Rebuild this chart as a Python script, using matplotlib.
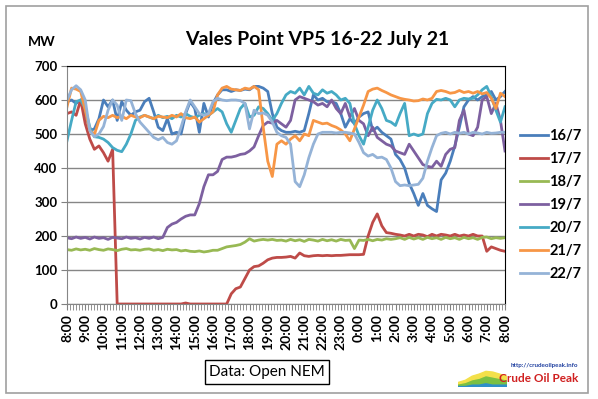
import numpy as np
import matplotlib
matplotlib.use('Agg')
import matplotlib.pyplot as plt
from matplotlib.patches import Rectangle

plt.rcParams['font.family'] = ['Lato', 'DejaVu Sans']

# 15-minute samples from 8:00 to 8:00 next day (97 values each)
hour_labels = ['8:00', '9:00', '10:00', '11:00', '12:00', '13:00', '14:00', '15:00',
               '16:00', '17:00', '18:00', '19:00', '20:00', '21:00', '22:00', '23:00',
               '0:00', '1:00', '2:00', '3:00', '4:00', '5:00', '6:00', '7:00', '8:00']

d16 = [595, 600, 590, 600, 560, 510, 515, 545, 600, 580, 600, 540, 595, 570, 555, 565,
       570, 595, 605, 565, 520, 510, 545, 500, 505, 500, 560, 595, 575, 505, 590, 550,
       590, 615, 630, 630, 625, 630, 628, 632, 630, 640, 640, 635, 625, 560, 520, 510,
       505, 505, 508, 505, 510, 560, 615, 600, 605, 595, 595, 590, 560, 520, 545, 530,
       550, 560, 565, 510, 520, 505, 495, 485, 440, 425, 400, 355, 325, 290, 325, 290,
       280, 272, 365, 385, 420, 465, 520, 580, 600, 610, 600, 610, 615, 625, 600, 610,
       625]
d17 = [560, 565, 555, 600, 530, 485, 455, 465, 445, 420, 455, 0, 0, 0, 0, 0,
       0, 0, 0, 0, 0, 0, 0, 0, 0, 0, 3, 0, 0, 0, 0, 0,
       0, 0, 0, 0, 30, 45, 50, 75, 100, 110, 112, 120, 130, 135, 137, 137,
       138, 140, 135, 150, 142, 140, 142, 143, 142, 143, 142, 143, 143, 144, 145, 145,
       145, 146, 200, 240, 265, 230, 210, 208, 205, 203, 200, 205, 200, 205, 203, 198,
       205, 200, 205, 203, 200, 205, 200, 203, 200, 205, 200, 200, 155, 168, 163, 158,
       155]
d18 = [160, 158, 162, 159, 161, 158, 163, 160, 158, 162, 160, 157, 161, 163, 159, 160,
       158, 161, 162, 158, 160, 157, 161, 159, 160, 156, 158, 155, 154, 156, 153, 155,
       158, 158, 163, 168, 170, 172, 175, 182, 192, 185, 188, 190, 188, 190, 187, 188,
       185, 190, 186, 189, 184, 190, 188, 185, 190, 186, 189, 185, 190, 187, 188, 163,
       188, 187, 190, 186, 190, 188, 192, 190, 192, 195, 190, 196, 191, 195, 190, 196,
       192, 195, 190, 196, 192, 195, 190, 196, 192, 195, 190, 196, 197, 192, 195, 193,
       195]
d19 = [195, 192, 197, 193, 196, 191, 197, 193, 195, 190, 196, 194, 192, 197, 193, 195,
       191, 196, 193, 197, 192, 196, 225, 235, 240, 250, 258, 262, 262, 295, 345, 380,
       380, 390, 425, 432, 432, 435, 440, 442, 450, 462, 495, 525, 535, 532, 540, 530,
       520, 540, 600, 610, 605, 600, 595, 585, 590, 580, 600, 575, 560, 590, 550, 575,
       540, 530, 495, 520, 490, 480, 470, 465, 450, 445, 440, 470, 450, 430, 410, 405,
       402, 420, 405, 440, 455, 460, 540, 570, 500, 495, 520, 600, 610, 560, 590, 540,
       450]
d20 = [480, 540, 595, 600, 575, 520, 492, 490, 485, 475, 460, 452, 448, 470, 500, 540,
       550, 555, 550, 545, 555, 548, 552, 545, 555, 550, 560, 552, 548, 555, 560, 555,
       565, 575, 565, 530, 505, 540, 575, 590, 550, 555, 580, 575, 560, 540, 560, 590,
       615, 625, 620, 635, 615, 640, 620, 615, 630, 620, 625, 615, 600, 605, 590, 530,
       495, 470, 520, 570, 600, 575, 540, 535, 525, 560, 590, 495, 500, 495, 500, 560,
       590, 602, 600, 605, 600, 580, 600, 605, 603, 605, 615, 630, 640, 610, 570, 535,
       580]
d21 = [580, 635, 632, 625, 570, 510, 498, 540, 552, 548, 555, 548, 552, 545, 555, 550,
       548, 555, 550, 545, 552, 550, 548, 555, 550, 560, 548, 545, 550, 535, 545, 555,
       565, 615, 635, 640, 632, 630, 628, 635, 632, 640, 630, 520, 420, 375, 470, 480,
       470, 485, 495, 480, 500, 495, 540, 535, 530, 532, 525, 520, 512, 500, 480, 515,
       550, 585, 625, 632, 635, 628, 622, 615, 610, 605, 602, 600, 597, 598, 603, 600,
       605, 625, 628, 625, 620, 622, 628, 622, 625, 620, 625, 618, 622, 605, 575, 620,
       610]
d22 = [600, 630, 642, 630, 600, 510, 492, 500, 522, 570, 600, 585, 540, 600, 598, 560,
       535, 520, 505, 490, 483, 490, 475, 470, 480, 520, 565, 600, 580, 560, 555, 560,
       595, 605, 600, 598, 600, 600, 598, 590, 515, 570, 560, 562, 555, 535, 505, 495,
       490, 470, 360, 345, 380, 430, 470, 500, 505, 505, 505, 503, 505, 505, 503, 500,
       475, 445, 435, 440, 430, 432, 425, 400, 360, 348, 350, 348, 350, 352, 370, 420,
       460, 495, 502, 505, 500, 505, 502, 505, 500, 505, 503, 500, 505, 502, 503, 505,
       505]

series = ['16/7', '17/7', '18/7', '19/7', '20/7', '21/7', '22/7']
colors = ['#4A7EBB', '#BE4B48', '#98B954', '#7D60A0', '#46AAC5', '#F79646', '#95B3D7']

# small stacked area for the logo
logo_a = [2, 3, 5, 6, 6, 7, 6, 5]
logo_b = [1, 2, 3, 4, 5, 5, 4, 3]
logo_c = [1, 1, 2, 2, 3, 2, 2, 2]

fig = plt.figure(figsize=(5.98, 3.99), dpi=100)
W, H = 598, 399

fig.patches.append(Rectangle((6 / W, 1 - 393 / H), 582 / W, 387 / H, transform=fig.transFigure,
                             fill=False, edgecolor='#A0A0A0', linewidth=1.2))

ax = fig.add_axes([67 / W, 1 - 304 / H, 438 / W, 238 / H])
hours = np.arange(len(d16)) / 4.0
for data, name, c in zip([d16, d17, d18, d19, d20, d21, d22], series, colors):
    ax.plot(hours, data, color=c, linewidth=2.0, label=name, solid_joinstyle='round')

ax.set_xlim(0, 24)
ax.set_ylim(0, 700)
ax.set_yticks(range(0, 701, 100))
ax.set_xticks(range(25))
ax.set_xticklabels(hour_labels, rotation=90, fontsize=10, fontweight='bold')
ax.set_xticks(np.arange(0, 24.01, 1 / 6.0), minor=True)
ax.tick_params(axis='y', labelsize=9.5, length=4, color='#808080', pad=3)
for lab in ax.get_yticklabels():
    lab.set_fontweight('bold')
ax.tick_params(axis='x', which='major', length=4, color='#808080', pad=3)
ax.tick_params(axis='x', which='minor', length=4, color='#808080')
ax.yaxis.grid(True, color='#868686', linewidth=1.0)
ax.set_axisbelow(True)
ax.spines['left'].set_color('#868686')
ax.spines['bottom'].set_color('#868686')
ax.spines['top'].set_color('black')
ax.spines['right'].set_color('black')

leg = ax.legend(loc='upper left', bbox_to_anchor=(507 / W, 1 - 116 / H),
                bbox_transform=fig.transFigure, frameon=False,
                handlelength=1.9, handletextpad=0.1, labelspacing=0.62,
                prop={'weight': 'bold', 'size': 10.5})

fig.text(317 / W, 1 - 40 / H, 'Vales Point VP5 16-22 July 21', ha='center', va='center',
         fontsize=14, fontweight='bold')
fig.text(28 / W, 1 - 42 / H, 'MW', ha='left', va='center', fontsize=10, fontweight='bold')

fig.text(267 / W, 1 - 372 / H, 'Data: Open NEM', ha='center', va='center', fontsize=11,
         bbox=dict(boxstyle='square,pad=0.3', facecolor='white', edgecolor='black', linewidth=1))

# logo
lax = fig.add_axes([458 / W, 1 - 386 / H, 48 / W, 22 / H])
lx = np.arange(len(logo_a))
la = np.array(logo_a)
lb = np.array(logo_b)
lc = np.array(logo_c)
lax.fill_between(lx, 0, lc, color='#2E8FC9')
lax.fill_between(lx, lc, lc + lb, color='#7BC043')
lax.fill_between(lx, lc + lb, lc + lb + la * 0.5, color='#F3E04A')
lax.set_xlim(0, len(logo_a) - 1)
lax.set_ylim(0, 16)
lax.axis('off')
fig.text(578 / W, 1 - 366 / H, 'http://crudeoilpeak.info', ha='right', va='center',
         fontsize=4.5, color='#2040A0', fontweight='bold')
fig.text(578 / W, 1 - 379 / H, 'Crude Oil Peak', ha='right', va='center',
         fontsize=8.5, color='#D02020', fontweight='bold')

fig.savefig('out.png', dpi=100)
